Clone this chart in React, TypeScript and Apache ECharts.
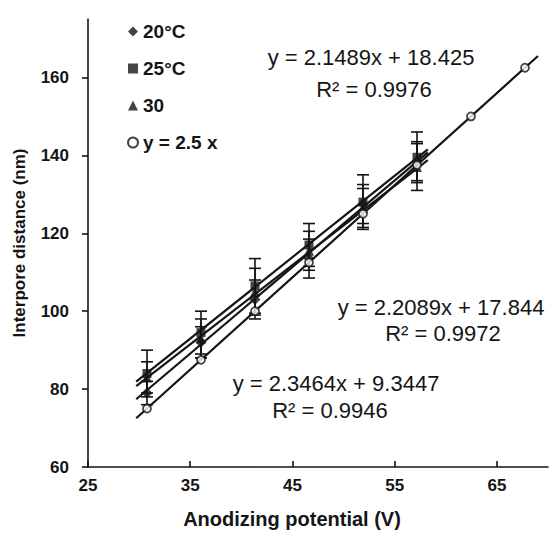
import React, { useEffect, useRef } from 'react';
import * as echarts from 'echarts';

// ---- data ----
const xTickValues = [25, 35, 45, 55, 65];
const yTickValues = [60, 80, 100, 120, 140, 160];

const seriesNames = ['20°C', '25°C', '30', 'y = 2.5 x'];
const voltages = [30, 35, 40, 45, 50, 55];

const dist20 = [79, 92, 103, 113.5, 127.5, 138.5];
const err20 = [3, 4, 5, 5, 5, 5];
const dist25 = [84, 94.5, 106.5, 117, 128, 139.5];
const err25 = [6, 5.5, 7, 5.5, 7, 6.5];
const dist30 = [83, 93, 105, 115.5, 126.5, 137];
const err30 = [4, 5, 6, 5, 5, 6];

const refX = [30, 35, 40, 45, 50, 55, 60, 65];
const refY = [75, 87.5, 100, 112.5, 125, 137.5, 150, 162.5];
const refLineX = [29, 66.2];
const refLineY = [72.5, 165.5];

const trendSlopes = [2.3464, 2.2089, 2.1489];
const trendIntercepts = [9.3447, 17.844, 18.425];
const trendR2 = [0.9946, 0.9972, 0.9976];
const trendRange = [29, 56];

// ---- layout / style ----
const FONT = '"Liberation Sans", Arial, sans-serif';
const INK = '#151515';
const eqPos = [
  { x: 336, y: 383, rx: 330, ry: 410 },
  { x: 441, y: 307, rx: 443, ry: 333 },
  { x: 371, y: 57, rx: 374, ry: 89 },
];

function errorSeries(dist: number[], err: number[]) {
  return {
    type: 'custom',
    xAxisIndex: 1,
    z: 3,
    silent: true,
    data: voltages.map((v, i) => [v, dist[i], err[i]]),
    encode: { x: 0, y: 1 },
    renderItem: (params: any, api: any) => {
      const x = api.value(0);
      const y = api.value(1);
      const e = api.value(2);
      const top = api.coord([x, y + e]);
      const bot = api.coord([x, y - e]);
      const hw = 6;
      const st = { stroke: INK, lineWidth: 1.6 };
      return {
        type: 'group',
        children: [
          { type: 'line', shape: { x1: top[0], y1: top[1], x2: bot[0], y2: bot[1] }, style: st },
          { type: 'line', shape: { x1: top[0] - hw, y1: top[1], x2: top[0] + hw, y2: top[1] }, style: st },
          { type: 'line', shape: { x1: bot[0] - hw, y1: bot[1], x2: bot[0] + hw, y2: bot[1] }, style: st },
        ],
      };
    },
  };
}

function pointSeries(name: string, dist: number[], symbol: string, size: number) {
  return {
    type: 'scatter',
    name,
    xAxisIndex: 1,
    z: 5,
    symbol,
    symbolSize: size,
    itemStyle: { color: INK },
    data: voltages.map((v, i) => [v, dist[i]]),
  };
}

function trendSeries(i: number) {
  return {
    type: 'line',
    name: 'trend' + i,
    xAxisIndex: 1,
    z: 2,
    showSymbol: false,
    symbol: 'none',
    silent: true,
    lineStyle: { color: INK, width: 2.2 },
    data: trendRange.map((x) => [x, trendSlopes[i] * x + trendIntercepts[i]]),
  };
}

const eqGraphics: any[] = [];
trendSlopes.forEach((s, i) => {
  eqGraphics.push({
    type: 'text',
    x: eqPos[i].x,
    y: eqPos[i].y,
    style: {
      text: `y = ${s}x + ${trendIntercepts[i]}`,
      font: `22px ${FONT}`,
      fill: INK,
      align: 'center',
      verticalAlign: 'middle',
    },
  });
  eqGraphics.push({
    type: 'text',
    x: eqPos[i].rx,
    y: eqPos[i].ry,
    style: {
      text: `R² = ${trendR2[i]}`,
      font: `22px ${FONT}`,
      fill: INK,
      align: 'center',
      verticalAlign: 'middle',
    },
  });
});

const option: any = {
  animation: false,
  backgroundColor: '#ffffff',
  grid: { left: 88, top: 19, width: 460, bottom: 68 },
  legend: {
    orient: 'vertical',
    left: 122,
    top: 17,
    itemGap: 18,
    itemWidth: 10,
    itemHeight: 10,
    textStyle: { fontFamily: FONT, fontSize: 19, fontWeight: 'bold', color: INK },
    data: seriesNames,
  },
  xAxis: [
    {
      type: 'value',
      min: 25,
      max: 70,
      interval: 10,
      name: 'Anodizing potential (V)',
      nameLocation: 'middle',
      nameGap: 42,
      nameTextStyle: { fontFamily: FONT, fontSize: 20, fontWeight: 'bold', color: INK, padding: [0, 52, 0, 0] },
      axisLine: { lineStyle: { color: INK, width: 1.6 } },
      axisTick: { inside: true, length: 6, lineStyle: { color: INK, width: 1.6 }, customValues: xTickValues },
      axisLabel: { fontFamily: FONT, fontSize: 17, fontWeight: 'bold', color: INK, margin: 10, customValues: xTickValues },
      splitLine: { show: false },
    },
    {
      type: 'value',
      show: false,
      min: 24.537,
      max: 67.13,
      splitLine: { show: false },
    },
  ],
  yAxis: {
    type: 'value',
    min: 60,
    max: 175,
    interval: 20,
    name: 'Interpore distance (nm)',
    nameLocation: 'middle',
    nameGap: 60,
    nameTextStyle: { fontFamily: FONT, fontSize: 17, fontWeight: 'bold', color: INK },
    axisLine: { show: true, lineStyle: { color: INK, width: 1.6 } },
    axisTick: { show: true, length: 6, lineStyle: { color: INK, width: 1.6 }, customValues: yTickValues },
    axisLabel: { fontFamily: FONT, fontSize: 17, fontWeight: 'bold', color: INK, margin: 19, customValues: yTickValues },
    splitLine: { show: false },
  },
  graphic: eqGraphics,
  series: [
    trendSeries(0),
    trendSeries(1),
    trendSeries(2),
    {
      type: 'line',
      name: 'ref line',
      xAxisIndex: 1,
      z: 2,
      showSymbol: false,
      symbol: 'none',
      silent: true,
      lineStyle: { color: INK, width: 2.2 },
      data: refLineX.map((x, i) => [x, refLineY[i]]),
    },
    errorSeries(dist25, err25),
    errorSeries(dist30, err30),
    errorSeries(dist20, err20),
    pointSeries(seriesNames[0], dist20, 'diamond', 11),
    pointSeries(seriesNames[1], dist25, 'rect', 9),
    pointSeries(seriesNames[2], dist30, 'triangle', 10),
    {
      type: 'scatter',
      name: seriesNames[3],
      xAxisIndex: 1,
      z: 6,
      symbol: 'circle',
      symbolSize: 8,
      itemStyle: { color: '#ffffff', borderColor: INK, borderWidth: 1.8 },
      data: refX.map((x, i) => [x, refY[i]]),
    },
  ],
};

export default function App() {
  const ref = useRef<HTMLDivElement>(null);
  useEffect(() => {
    document.body.style.margin = '0';
    const chart = echarts.init(ref.current as HTMLDivElement, null, { renderer: 'svg' });
    chart.setOption(option);
    return () => chart.dispose();
  }, []);
  return <div ref={ref} style={{ width: 553, height: 535 }} />;
}
